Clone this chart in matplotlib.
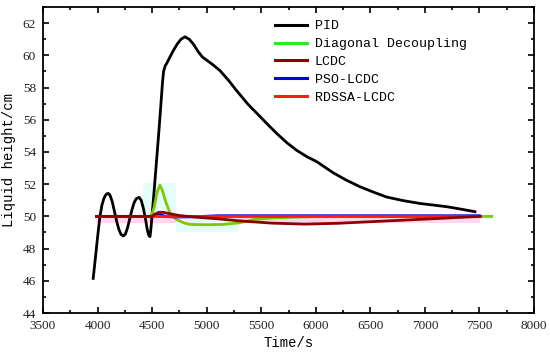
import matplotlib
matplotlib.use("Agg")
import matplotlib.pyplot as plt
from matplotlib.lines import Line2D
from matplotlib.ticker import MultipleLocator

# ---------------- data ----------------
pid_t = [3960, 3980, 4000, 4020, 4040, 4060, 4080, 4098, 4115, 4135, 4155, 4175,
         4195, 4215, 4236, 4255, 4275, 4295, 4315, 4335, 4355, 4380, 4400, 4420,
         4440, 4455, 4468, 4481, 4490, 4500, 4520, 4540, 4560, 4580, 4595, 4605,
         4620, 4634, 4660, 4695, 4730, 4765, 4801, 4840, 4878, 4920, 4960, 5000,
         5060, 5122, 5200, 5275, 5380, 5489, 5560, 5642, 5730, 5825, 5920, 6008,
         6161, 6280, 6405, 6530, 6650, 6800, 6955, 7080, 7200, 7330, 7459]
pid_v = [46.15, 47.4, 48.7, 49.9, 50.7, 51.15, 51.38, 51.43, 51.3, 50.9, 50.3, 49.7,
         49.2, 48.88, 48.78, 48.9, 49.3, 49.85, 50.4, 50.85, 51.1, 51.18, 51.0, 50.5,
         49.8, 49.2, 48.85, 48.74, 49.3, 50.1, 51.7, 53.4, 55.1, 56.9, 58.3, 59.0,
         59.35, 59.5, 59.85, 60.3, 60.7, 61.0, 61.15, 61.0, 60.7, 60.25, 59.9, 59.7,
         59.4, 59.05, 58.45, 57.8, 56.95, 56.2, 55.7, 55.15, 54.6, 54.1, 53.7, 53.4,
         52.7, 52.25, 51.84, 51.5, 51.2, 50.98, 50.8, 50.7, 50.6, 50.45, 50.29]

dd_t = [3990, 4480, 4496, 4520, 4545, 4572, 4595, 4625, 4665, 4725, 4790, 4847,
        5000, 5150, 5300, 5425, 5600, 5800, 6000, 6500, 7612]
dd_v = [50.0, 50.0, 50.08, 50.6, 51.5, 51.94, 51.6, 50.9, 50.2, 49.8, 49.6, 49.5,
        49.48, 49.5, 49.6, 49.8, 49.9, 49.95, 49.98, 50.0, 50.0]

lcdc_t = [3990, 4500, 4530, 4560, 4600, 4650, 4750, 4900, 5100, 5300, 5600, 5900,
          6200, 6600, 7000, 7505]
lcdc_v = [50.0, 50.0, 50.15, 50.25, 50.25, 50.18, 50.05, 49.95, 49.85, 49.72, 49.58,
          49.52, 49.57, 49.7, 49.83, 50.0]

pso_t = [3990, 4500, 4540, 4570, 4620, 4700, 4900, 5100, 7500]
pso_v = [50.0, 50.0, 50.15, 50.12, 50.0, 49.96, 49.98, 50.04, 50.04]

rdssa_t = [3990, 7505]
rdssa_v = [50.0, 50.0]

# faint highlight regions visible in the reference (t0, t1, v_low, v_high)
pink_band = (3990, 7505, 49.6, 50.0)
cyan_boxes = [(4417, 4720, 50.0, 52.05), (4720, 5290, 49.0, 49.85), (7505, 7650, 49.85, 50.1)]

series_labels = ["PID", "Diagonal Decoupling", "LCDC", "PSO-LCDC", "RDSSA-LCDC"]
legend_colors = ["#000000", "#22ee22", "#8b0000", "#0000ee", "#ff1a1a"]
line_colors = ["#000000", "#80c800", "#8b0000", "#0000ee", "#ff1a1a"]

xticks = [3500, 4000, 4500, 5000, 5500, 6000, 6500, 7000, 7500, 8000]
yticks = [44, 46, 48, 50, 52, 54, 56, 58, 60, 62]

# ---------------- figure ----------------
fig = plt.figure(figsize=(5.5, 3.54), dpi=100)
ax = fig.add_axes([43 / 550, 1 - 313 / 354, (534 - 43) / 550, (313 - 7) / 354])

mono = "Liberation Mono"
serif = "Liberation Serif"

ax.fill_between([pink_band[0], pink_band[1]], pink_band[2], pink_band[3],
                color="#ffd6f0", lw=0, zorder=1)
for t0, t1, lo, hi in cyan_boxes:
    ax.fill_between([t0, t1], lo, hi, color="#e4fdfd", lw=0, zorder=1)

ax.plot(pid_t, pid_v, color=line_colors[0], lw=2.0, zorder=3)
ax.plot(dd_t, dd_v, color=line_colors[1], lw=2.0, zorder=4)
ax.plot(pso_t, pso_v, color=line_colors[3], lw=2.0, zorder=5)
ax.plot(rdssa_t, rdssa_v, color=line_colors[4], lw=2.0, zorder=6)
ax.plot(lcdc_t, lcdc_v, color=line_colors[2], lw=2.0, zorder=7)

ax.set_xlim(3500, 8000)
ax.set_ylim(44, 63)
ax.set_xticks(xticks)
ax.set_yticks(yticks)
ax.xaxis.set_minor_locator(MultipleLocator(250))
ax.yaxis.set_minor_locator(MultipleLocator(1))
ax.tick_params(which="both", direction="in", top=True, right=True, width=1.2)
ax.tick_params(which="major", length=4, pad=5, labelsize=9.5)
ax.tick_params(which="minor", length=2.5)
for lab in ax.get_xticklabels() + ax.get_yticklabels():
    lab.set_fontfamily(serif)
    lab.set_color("#222222")
for sp in ax.spines.values():
    sp.set_linewidth(1.3)

ax.set_xlabel("Time/s", fontfamily=mono, fontsize=10, labelpad=3)
ax.set_ylabel("Liquid height/cm", fontfamily=mono, fontsize=10, labelpad=5)

handles = [Line2D([0], [0], color=c, lw=2.2) for c in legend_colors]
leg = ax.legend(handles, series_labels, loc="upper left",
                bbox_to_anchor=((275 - 43) / 491, 1 - (20 - 7) / 306),
                frameon=False, borderpad=0, borderaxespad=0,
                handlelength=2.4, handletextpad=0.6, labelspacing=0.43,
                prop={"family": mono, "size": 9.5})

fig.savefig("out.png", dpi=100)
